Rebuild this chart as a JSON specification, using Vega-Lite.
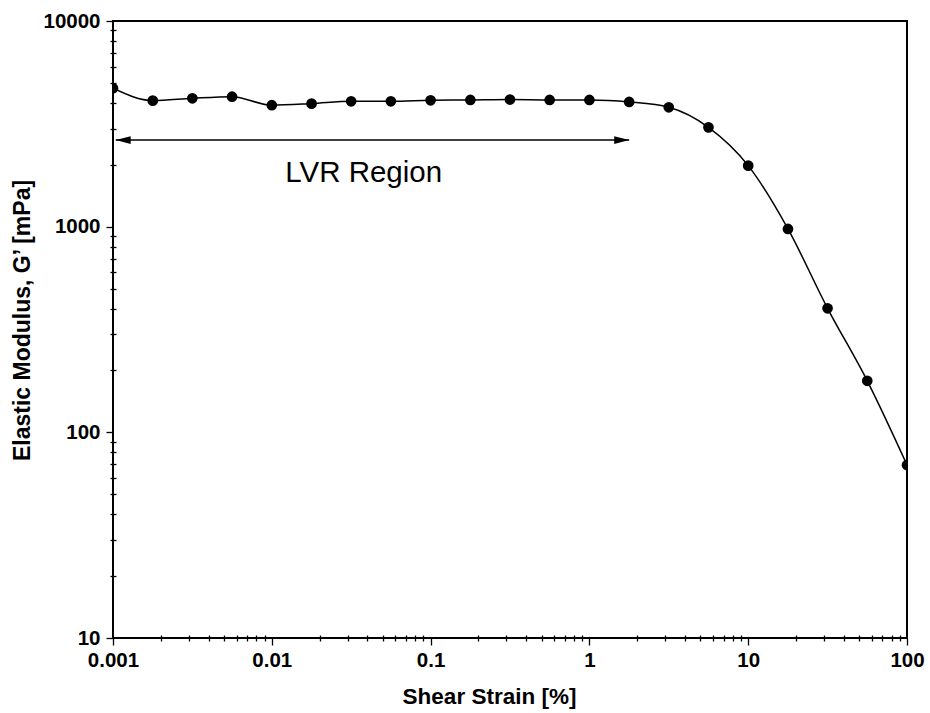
{
  "$schema": "https://vega.github.io/schema/vega-lite/v6.json",
  "autosize": {"type": "none"},
  "padding": {"left": 113, "top": 21, "right": 23, "bottom": 75},
  "width": 794,
  "height": 617,
  "config": {
    "view": {"stroke": "black", "strokeWidth": 2},
    "axis": {"grid": false, "domain": false, "labelFlush": false, "labelOverlap": false, "tickColor": "black", "tickWidth": 1.3, "labelColor": "black", "titleColor": "black", "labelFont": "Liberation Sans", "titleFont": "Liberation Sans", "labelFontWeight": "bold", "titleFontWeight": "bold"},
    "font": "Liberation Sans"
  },
  "datasets": {
    "curve": [
      {"strain": 0.001, "modulus": 4710},
      {"strain": 0.00178, "modulus": 4100},
      {"strain": 0.00316, "modulus": 4210},
      {"strain": 0.00562, "modulus": 4285},
      {"strain": 0.01, "modulus": 3895},
      {"strain": 0.0178, "modulus": 3965},
      {"strain": 0.0316, "modulus": 4070},
      {"strain": 0.0562, "modulus": 4070},
      {"strain": 0.1, "modulus": 4115},
      {"strain": 0.178, "modulus": 4130},
      {"strain": 0.316, "modulus": 4150},
      {"strain": 0.562, "modulus": 4130},
      {"strain": 1, "modulus": 4130},
      {"strain": 1.78, "modulus": 4040},
      {"strain": 3.16, "modulus": 3805},
      {"strain": 5.62, "modulus": 3040},
      {"strain": 10, "modulus": 1980},
      {"strain": 17.8, "modulus": 975},
      {"strain": 31.6, "modulus": 401},
      {"strain": 56.2, "modulus": 178},
      {"strain": 100, "modulus": 69.4}
    ],
    "arrow": [{"start": 0.00104, "end": 1.78, "level": 2637}],
    "note": [{"strain": 0.0379, "modulus": 1655, "text": "LVR Region"}]
  },
  "resolve": {"axis": {"x": "independent", "y": "independent"}},
  "layer": [
    {
      "data": {"name": "curve"},
      "mark": {"type": "line", "interpolate": "monotone", "color": "black", "strokeWidth": 1.5, "clip": true},
      "encoding": {
        "x": {"field": "strain", "type": "quantitative",
          "scale": {"type": "log", "domain": [0.001, 100], "nice": false},
          "axis": {"orient": "bottom", "values": [0.001, 0.01, 0.1, 1, 10, 100], "format": "~g", "tickSize": 7, "labelPadding": 5, "labelFontSize": 20.5, "title": "Shear Strain [%]", "titleFontSize": 22.5, "titlePadding": 15, "titleX": 376}},
        "y": {"field": "modulus", "type": "quantitative",
          "scale": {"type": "log", "domain": [10, 10000], "nice": false},
          "axis": {"orient": "left", "values": [10, 100, 1000, 10000], "format": "d", "tickSize": 7, "labelPadding": 6, "labelFontSize": 20.5, "title": "Elastic Modulus,  G’ [mPa]", "titleFontSize": 23, "titlePadding": 8, "titleY": 299}}
      }
    },
    {
      "data": {"name": "curve"},
      "mark": {"type": "point", "filled": true, "size": 115, "color": "black", "opacity": 1, "clip": true},
      "encoding": {
        "x": {"field": "strain", "type": "quantitative",
          "axis": {"orient": "bottom", "values": [0.002,0.003,0.004,0.005,0.006,0.007,0.008,0.009,0.02,0.03,0.04,0.05,0.06,0.07,0.08,0.09,0.2,0.3,0.4,0.5,0.6,0.7,0.8,0.9,2,3,4,5,6,7,8,9,20,30,40,50,60,70,80,90], "tickSize": 3, "labels": false, "title": null}},
        "y": {"field": "modulus", "type": "quantitative",
          "axis": {"orient": "left", "values": [20,30,40,50,60,70,80,90,200,300,400,500,600,700,800,900,2000,3000,4000,5000,6000,7000,8000,9000], "tickSize": 3, "labels": false, "title": null}}
      }
    },
    {
      "data": {"name": "arrow"},
      "mark": {"type": "rule", "color": "black", "strokeWidth": 1.5},
      "encoding": {
        "x": {"field": "start", "type": "quantitative",
          "axis": {"orient": "bottom", "values": [0.002,0.003,0.004,0.005,0.006,0.007,0.008,0.009,0.02,0.03,0.04,0.05,0.06,0.07,0.08,0.09,0.2,0.3,0.4,0.5,0.6,0.7,0.8,0.9,2,3,4,5,6,7,8,9,20,30,40,50,60,70,80,90], "tickSize": -3, "labels": false, "title": null}},
        "x2": {"field": "end"},
        "y": {"field": "level", "type": "quantitative",
          "axis": {"orient": "left", "values": [20,30,40,50,60,70,80,90,200,300,400,500,600,700,800,900,2000,3000,4000,5000,6000,7000,8000,9000], "tickSize": -3, "labels": false, "title": null}}
      }
    },
    {
      "data": {"name": "arrow"},
      "mark": {"type": "point", "filled": true, "color": "black", "opacity": 1, "size": 225, "shape": "M 0 0 L 2 -0.52 L 2 0.52 Z"},
      "encoding": {
        "x": {"field": "start", "type": "quantitative", "axis": null},
        "y": {"field": "level", "type": "quantitative", "axis": null}
      }
    },
    {
      "data": {"name": "arrow"},
      "mark": {"type": "point", "filled": true, "color": "black", "opacity": 1, "size": 225, "shape": "M 0 0 L -2 -0.52 L -2 0.52 Z"},
      "encoding": {
        "x": {"field": "end", "type": "quantitative", "axis": null},
        "y": {"field": "level", "type": "quantitative", "axis": null}
      }
    },
    {
      "data": {"name": "note"},
      "mark": {"type": "text", "font": "Liberation Sans", "fontSize": 29.5, "color": "black", "align": "center", "baseline": "alphabetic"},
      "encoding": {
        "x": {"field": "strain", "type": "quantitative", "axis": null},
        "y": {"field": "modulus", "type": "quantitative", "axis": null},
        "text": {"field": "text"}
      }
    }
  ]
}
